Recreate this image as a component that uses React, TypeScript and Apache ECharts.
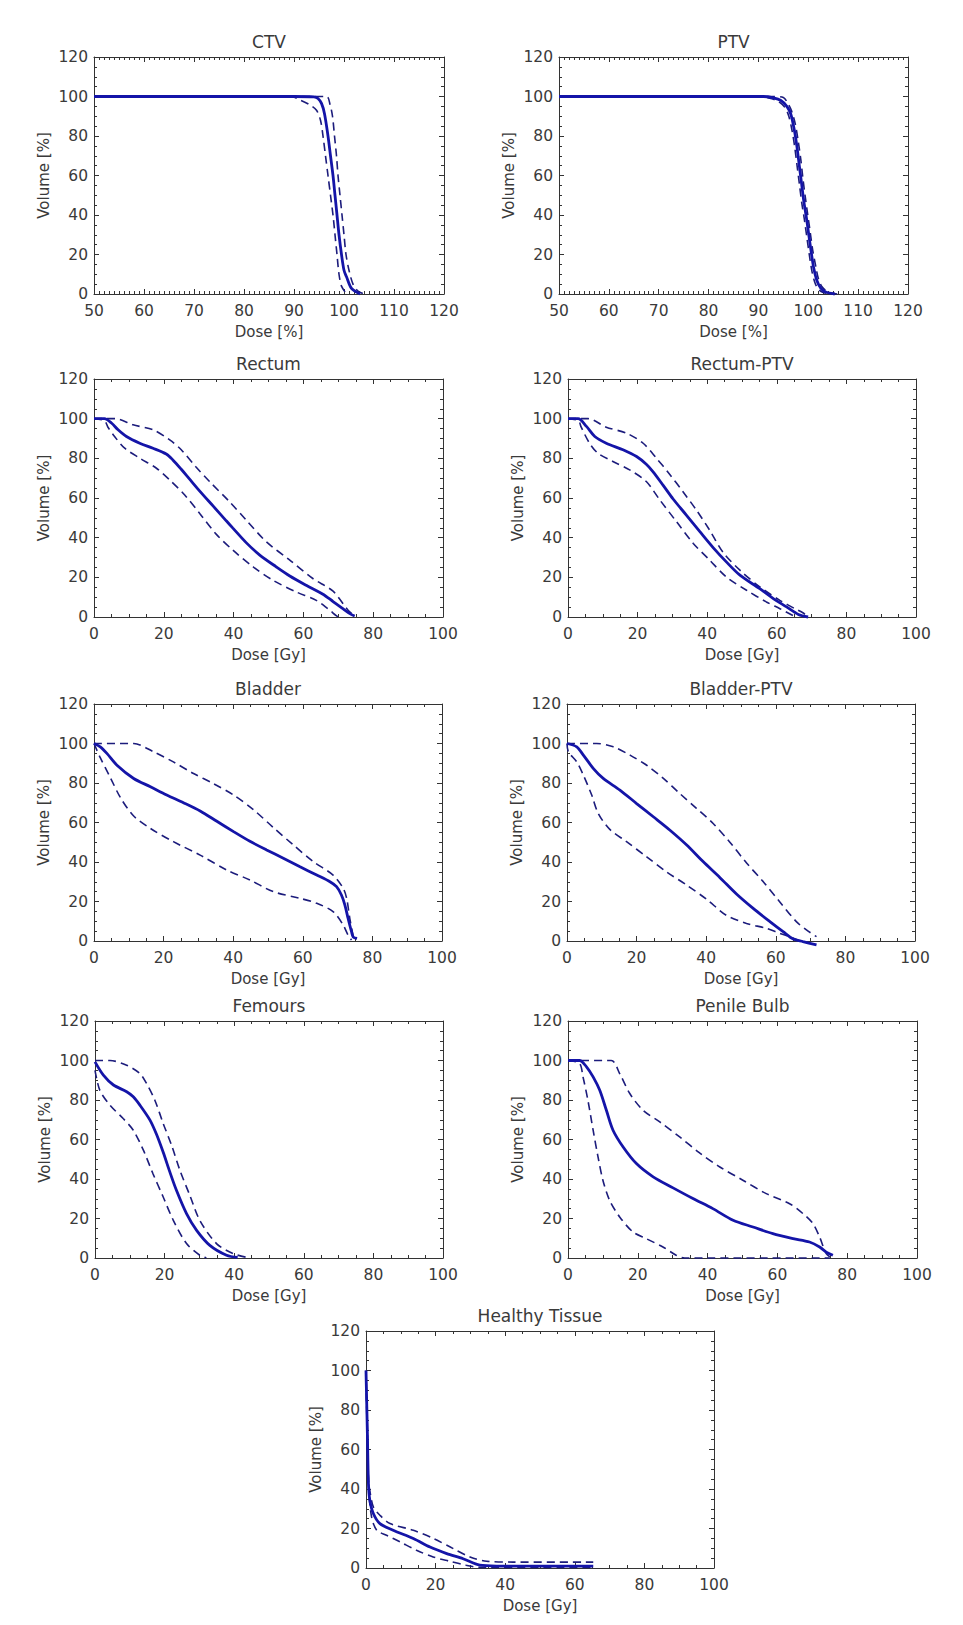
import React, { useEffect, useRef } from "react";
import * as echarts from "echarts";

// ---------- data (dose, volume %) ----------
const ctvMean = [[50,100],[90,100],[94,99.8],[94.8,99],[95.5,96.5],[96.1,91.3],[96.8,80],[97.3,70],[97.8,60],[98.2,50],[98.6,40],[99,30],[99.5,20],[100,12],[100.5,8.7],[101.5,2.8],[103.2,0]];
const ctvLow = [[50,100],[89.5,100],[91,98.5],[93,96],[94.5,93],[95.3,88],[95.8,80],[96.3,70],[96.8,60],[97.3,50],[97.8,40],[98.2,30],[98.6,20],[99,10],[99.5,4],[100.5,0]];
const ctvHigh = [[50,100],[96.5,100],[97.2,96],[97.7,90],[98.1,80],[98.5,70],[98.8,60],[99.2,50],[99.6,40],[100,30],[100.4,20],[101,12],[101.8,5],[102.8,1.5],[104,0]];

const ptvMean = [[50,100],[91,100],[93,99.3],[94.5,98],[95.7,95],[96.5,91],[97.2,83],[97.7,75],[98.2,65],[98.6,57],[99.1,47],[99.6,39],[100.1,30],[100.6,21],[101.1,13],[101.7,7],[102.5,3],[103.5,1],[105.3,0]];
const ptvLow = [[50,100],[90.5,100],[92.5,99],[94,97.5],[95.3,94.5],[96.1,90],[96.8,82],[97.3,74],[97.8,64],[98.2,56],[98.7,46],[99.2,38],[99.7,29],[100.2,20],[100.7,12],[101.3,6],[102,2.5],[103,0.8],[104.5,0]];
const ptvHigh = [[50,100],[93,100],[95,99.5],[95.8,97],[96.6,93],[97.4,86],[98,77],[98.5,68],[98.9,59],[99.4,49],[99.9,40],[100.4,31],[100.9,22],[101.5,14],[102,8],[102.8,3.5],[104,1],[105.8,0]];

const rectumMean = [[0,100],[3,100],[5,97.8],[6.9,94.4],[9.3,91],[13.1,87.6],[16.9,85.1],[20.7,82.2],[22.6,79.2],[25,74.5],[27.4,69.5],[30.3,63.5],[34.1,56],[37.9,48.5],[39.8,44.8],[43.6,37.5],[47.5,31.2],[52.2,25.3],[56.1,20.7],[60.8,16],[65.6,11.5],[68.5,7.8],[71.3,4.2],[73.7,1.3],[74.7,0.5]];
const rectumHigh = [[0,100],[6,100],[11.2,96.9],[16.9,94.4],[21.7,89.3],[25,84.3],[29.3,75.5],[33.1,68.3],[38.9,58],[43.6,48.9],[49.4,37.9],[56.1,28.7],[62.7,19.4],[68.5,13],[72.8,3.4],[74.7,0.5]];
const rectumLow = [[0,100],[3,99],[4,95.7],[5.9,91],[8.8,85.1],[13.1,80.1],[17.9,75],[21.7,69.1],[26,61.5],[30.3,52.2],[35,41.8],[39.8,33.7],[45.6,25.3],[51.3,18.5],[58,12.6],[63.7,8.4],[67,4.2],[69.4,0.7],[70,0]];

const rptvMean = [[0,100],[2.9,100],[5.3,96.1],[7.7,91],[11,87.6],[15.8,84.3],[19.7,80.9],[22.5,77],[24.4,73.3],[27.3,66.5],[30.2,59.5],[34,51.4],[37.9,43],[41.7,35],[45.5,27.8],[49.4,21.1],[55.1,14.3],[59,9.3],[62.8,5.1],[66.2,1.3],[69,0]];
const rptvHigh = [[0,100],[5.8,100],[11,95.7],[16.8,92.7],[21.6,87.6],[25.4,80.1],[29.2,72],[33.1,63],[36.9,53.9],[40.7,43.8],[44.6,32.5],[49.4,23.6],[55.1,15.2],[60.9,8.4],[65.2,4.2],[67.6,2],[69,0]];
const rptvLow = [[0,100],[3,99],[3.8,95.7],[6.2,87.6],[8.6,82.6],[12.9,78.4],[17.7,74.2],[22.5,68.3],[26.4,59],[31.2,48],[36,37.1],[40.7,28.7],[45.5,20.2],[51.3,13.5],[57,7.6],[60.9,4.2],[64.7,0.7],[66,0]];

const bladderMean = [[0,100],[1.8,98.3],[3.7,95],[6.6,89],[11.4,82.3],[16.2,78.1],[20.9,73.9],[25.7,70],[30.5,65.8],[35.3,60.6],[40.1,55.4],[44.8,50.5],[49.6,46.1],[54.4,41.9],[59.2,37.6],[64,33.4],[67.8,30],[69.7,27.5],[71.1,23.3],[72.1,18.2],[73,11.5],[74,4.7],[74.5,2],[75.6,1.3]];
const bladderHigh = [[0,100],[11.4,100],[17.1,95.8],[22.8,90.7],[28.6,84.8],[34.3,79.7],[40.1,73.9],[45.8,66.5],[51.5,57.5],[57.3,48.6],[63,40.2],[68.7,33.4],[71.6,26.7],[72.6,21.6],[73.5,11.5],[74.5,2.2]];
const bladderLow = [[0,100],[1.8,92.8],[4.7,82.7],[7.6,72.6],[11.4,63.3],[16.2,57],[22.8,50.3],[30.5,43.5],[38.1,36],[44.8,30.9],[51.5,25],[59.2,21.6],[64,19.1],[68.7,14.9],[71.6,8.1],[73,3],[74,0.5]];

const bptvMean = [[0,100],[2.8,98.3],[4.7,94.1],[7.6,87.3],[10.4,82.3],[15.2,76.4],[20,69.6],[24.8,62.9],[29.6,56.1],[34.4,48.6],[39.1,40.2],[43.9,32.2],[48.7,23.8],[53.5,16.5],[58.3,9.8],[62.1,4.7],[65,1],[67.8,-0.3],[71.7,-2]];
const bptvHigh = [[0,100],[8.5,100],[13.3,98.3],[18.1,94.1],[22.9,89],[27.7,82.3],[32.4,74.7],[37.2,67.2],[42,59.5],[46.8,50],[51.6,39.5],[56.4,30],[61.1,19.9],[65.9,9.8],[68.8,5.6],[71.7,2.2]];
const bptvLow = [[0,100],[0.4,95.8],[2.8,90.7],[4.7,84],[7.1,73.9],[9,64.5],[12.3,56.5],[17.1,50.3],[22.9,42.6],[28.6,35],[34.4,28.3],[40.2,21],[45.8,13],[51.6,8.9],[57.3,6.4],[61.1,3.9],[64,2.2],[66.9,0]];

const femMean = [[0,99.3],[2.4,92.6],[5.3,87.6],[9.1,84.2],[11,81.6],[12.9,77.4],[15.8,69.8],[17.7,62.5],[19.6,53.5],[21.5,43.6],[23.4,34.3],[26.3,22.5],[29.2,14],[33,6.4],[37.8,1.4],[41,0.3]];
const femHigh = [[0,100],[4.3,100],[9.1,97.6],[12.9,93.4],[14.8,88.4],[17.2,79.9],[19.6,68.1],[22,57.1],[24.4,44.4],[27.3,31.5],[30.1,19.1],[34.9,7.3],[39.7,2.2],[44.5,0]];
const femLow = [[0,95],[1.4,84.9],[4.3,77.4],[8.1,70.6],[11,64.7],[13.9,54.6],[16.7,42.5],[19.6,30.9],[22.5,19.1],[26.3,7.3],[30.1,1.4],[32,0]];

const pbMean = [[0,100],[3.3,100],[5.3,96.8],[7.2,91.7],[9.1,84.9],[11,74.8],[12.9,64.7],[15.8,56.2],[19.6,47.8],[24.4,41.1],[30.1,35.5],[35.8,30.1],[41.5,25],[47.3,19.1],[53,15.7],[58.7,12.3],[64.5,9.8],[69.2,8.1],[72.1,5.6],[74,3],[75.9,1.4]];
const pbHigh = [[0,100],[12.4,100],[14.8,93.4],[17.7,83.3],[21.5,74.8],[26.3,68.9],[32,61.3],[37.7,53.2],[43.5,46.1],[50.1,39.4],[56.8,32.6],[63.5,27.5],[67.3,22.5],[70.2,17.4],[72.1,10.6],[74,2.2],[75.5,0]];
const pbLow = [[0,100],[3.3,98.5],[4.3,91.7],[5.7,79.9],[7.2,64.7],[8.6,51.2],[10,39.4],[11.9,29.3],[14.8,20.8],[18.6,13.2],[22.4,9.8],[27.2,5.6],[31,1.4],[33.4,0],[75,0]];

const htMean = [[0,100],[0.4,68],[0.7,42.8],[1.1,34.3],[2.1,27.6],[4,22.5],[7.8,19.1],[13.6,14.9],[18.4,10.6],[23.2,7.3],[27.9,4.7],[32.7,1.4],[37.5,1],[65.3,1]];
const htHigh = [[0,100],[0.4,70],[0.7,45],[1.2,38],[2.1,31],[4,26.7],[6.9,22.5],[13.6,19.1],[19.4,14.9],[25.1,9.8],[29.9,5.6],[34.7,3.4],[42.3,3],[65.3,3]];
const htLow = [[0,95],[0.4,65],[0.8,40],[1.6,25.9],[3.1,19.1],[5.9,16.6],[9.8,13.2],[14.5,9],[19.3,5.6],[24.1,3.4],[28.8,1.4],[32.7,0.3],[65,0.3]];

const titles = ["CTV", "PTV", "Rectum", "Rectum-PTV", "Bladder", "Bladder-PTV", "Femours", "Penile Bulb", "Healthy Tissue"];
const xNames = ["Dose [%]", "Dose [%]", "Dose [Gy]", "Dose [Gy]", "Dose [Gy]", "Dose [Gy]", "Dose [Gy]", "Dose [Gy]", "Dose [Gy]"];
const yName = "Volume [%]";
const pctXRange = [50, 120, 10, 10]; // min, max, interval, minor split
const gyXRange = [0, 100, 20, 4];
const yRange = [0, 120, 20, 4];
const seriesSets = [
  [ctvMean, ctvLow, ctvHigh],
  [ptvMean, ptvLow, ptvHigh],
  [rectumMean, rectumLow, rectumHigh],
  [rptvMean, rptvLow, rptvHigh],
  [bladderMean, bladderLow, bladderHigh],
  [bptvMean, bptvLow, bptvHigh],
  [femMean, femLow, femHigh],
  [pbMean, pbLow, pbHigh],
  [htMean, htLow, htHigh],
];

// ---------- layout (plot boxes: left, top, width, height) ----------
const boxes = [
  [94, 57, 350, 237],
  [559, 57, 349, 237],
  [94, 379, 349, 238],
  [568, 379, 348, 238],
  [94, 704, 348, 237],
  [567, 704, 348, 237],
  [95, 1021, 348, 237],
  [568, 1021, 349, 237],
  [366, 1331, 348, 237],
];

const FONT = "DejaVu Sans";
const AXIS_COLOR = "#333";
const TEXT_COLOR = "#3a3a3a";
const SOLID_COLOR = "#1414a8";
const DASH_COLOR = "#1c1c7c";

function buildOption() {
  const grid: any[] = [];
  const xAxis: any[] = [];
  const yAxis: any[] = [];
  const series: any[] = [];
  const title: any[] = [];

  boxes.forEach((b, i) => {
    grid.push({ left: b[0], top: b[1], width: b[2], height: b[3], containLabel: false });
    const xr = i < 2 ? pctXRange : gyXRange;
    const lineStyle = { color: AXIS_COLOR, width: 1 };
    const common = (r: number[]) => ({
      type: "value",
      gridIndex: i,
      min: r[0],
      max: r[1],
      interval: r[2],
      axisLine: { show: true, onZero: false, lineStyle },
      axisTick: { show: true, inside: true, length: 5, lineStyle },
      minorTick: { show: true, splitNumber: r[3], length: 3, lineStyle },
      splitLine: { show: false },
      minorSplitLine: { show: false },
    });
    xAxis.push({
      ...common(xr),
      position: "bottom",
      axisLabel: { color: TEXT_COLOR, fontSize: 15.5, fontFamily: FONT, margin: 9 },
      name: xNames[i],
      nameLocation: "middle",
      nameGap: 30,
      nameTextStyle: { color: TEXT_COLOR, fontSize: 15, fontFamily: FONT },
    });
    xAxis.push({ ...common(xr), position: "top", axisLabel: { show: false } });
    yAxis.push({
      ...common(yRange),
      position: "left",
      axisLabel: { color: TEXT_COLOR, fontSize: 15.5, fontFamily: FONT, margin: 6 },
      name: yName,
      nameLocation: "middle",
      nameGap: 43,
      nameRotate: 90,
      nameTextStyle: { color: TEXT_COLOR, fontSize: 15, fontFamily: FONT },
    });
    yAxis.push({ ...common(yRange), position: "right", axisLabel: { show: false } });

    title.push({
      text: titles[i],
      left: b[0] + b[2] / 2,
      top: b[1] - 24,
      textAlign: "center",
      padding: 0,
      textStyle: { color: TEXT_COLOR, fontSize: 17, fontWeight: "normal", fontFamily: FONT },
    });

    const [mean, low, high] = seriesSets[i];
    const base = {
      type: "line",
      xAxisIndex: 2 * i,
      yAxisIndex: 2 * i,
      showSymbol: false,
      symbol: "none",
      smooth: 0.3,
      clip: false,
      silent: true,
    };
    series.push({ ...base, name: titles[i] + " mean", data: mean, lineStyle: { color: SOLID_COLOR, width: 2.8 }, z: 3 });
    series.push({ ...base, name: titles[i] + " min", data: low, lineStyle: { color: DASH_COLOR, width: 1.6, type: [8, 5] }, z: 2 });
    series.push({ ...base, name: titles[i] + " max", data: high, lineStyle: { color: DASH_COLOR, width: 1.6, type: [8, 5] }, z: 2 });
  });

  return { animation: false, backgroundColor: "#ffffff", title, grid, xAxis, yAxis, series };
}

export default function App() {
  const ref = useRef<HTMLDivElement>(null);
  useEffect(() => {
    if (!ref.current) return;
    const chart = echarts.init(ref.current, undefined, { renderer: "svg" });
    chart.setOption(buildOption() as any);
    return () => chart.dispose();
  }, []);
  return (
    <div
      ref={ref}
      style={{ position: "absolute", left: 0, top: 0, width: 963, height: 1625, background: "#fff" }}
    />
  );
}
